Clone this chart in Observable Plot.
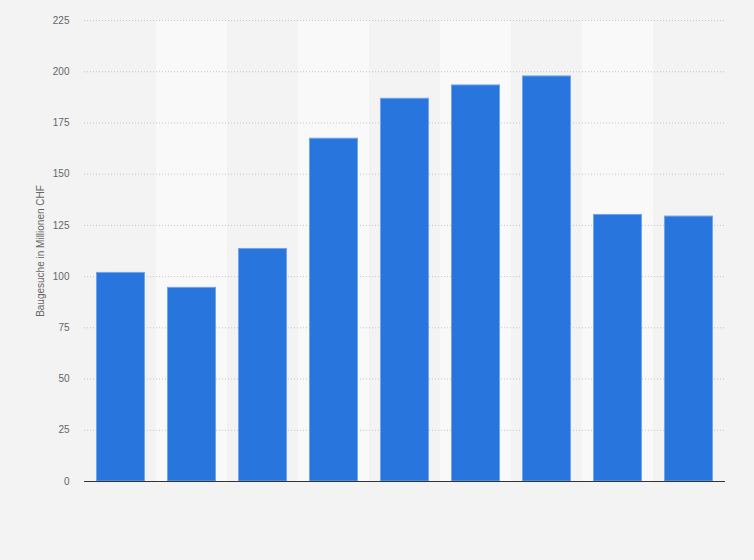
<!DOCTYPE html>
<html>
<head>
<meta charset="utf-8">
<script src="https://cdn.jsdelivr.net/npm/d3@7"></script>
<script src="https://cdn.jsdelivr.net/npm/@observablehq/plot@0.6"></script>
<style>
  html, body { margin: 0; padding: 0; background: #f3f3f3; }
  #chart { width: 754px; height: 560px; }
  svg { display: block; }
</style>
</head>
<body>
<div id="chart"></div>
<script>
const categories = ["1", "2", "3", "4", "5", "6", "7", "8", "9"];
const values = [101.8, 94.5, 113.5, 167.3, 186.8, 193.3, 197.7, 130.1, 129.3];
const yTicks = [0, 25, 50, 75, 100, 125, 150, 175, 200, 225];
const yLabel = "Baugesuche in Millionen CHF";

const data = categories.map((c, i) => ({ cat: c, value: values[i] }));
const bands = categories.filter((c, i) => i % 2 === 1).map(c => ({ cat: c }));

const chart = Plot.plot({
  width: 754,
  height: 560,
  marginLeft: 84,
  marginRight: 29,
  marginTop: 20,
  marginBottom: 79,
  style: { background: "#f3f3f3", fontFamily: "'Liberation Sans', Arial, sans-serif" },
  x: { type: "band", domain: categories, padding: 0, axis: null },
  y: { domain: [0, 225], axis: null },
  marks: [
    Plot.barY(bands, { x: "cat", y1: 0, y2: 225, fill: "#f9f9f9" }),
    Plot.ruleY(yTicks.filter(d => d > 0), { stroke: "#c4c4c4", strokeDasharray: "1,2", strokeWidth: 1 }),
    Plot.axisY({ ticks: yTicks, tickSize: 0, tickPadding: 15, fontSize: 10, fill: "#666", label: null }),
    Plot.barY(data, { x: "cat", y: "value", fill: "#2876dd", stroke: "#6fa5ec", strokeWidth: 1, insetLeft: 11.5, insetRight: 11.5 }),
    Plot.ruleY([0], { stroke: "#333", strokeWidth: 1.2 }),
    Plot.text([yLabel], { frameAnchor: "left", rotate: -90, dx: -44, fontSize: 10, fill: "#666", textAnchor: "middle" })
  ]
});
document.getElementById("chart").appendChild(chart);
</script>
</body>
</html>
